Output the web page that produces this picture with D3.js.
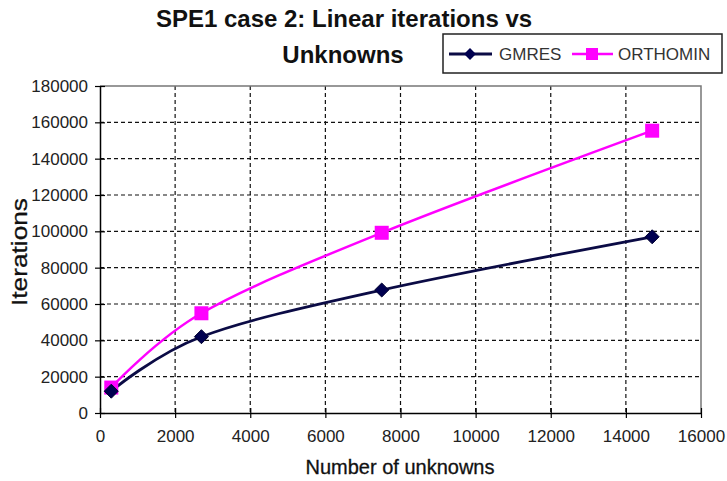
<!doctype HTML>
<meta charset="utf-8">
<style>
    body { margin: 0; background: #fff; }
    text { font-family: "Liberation Sans", Arial, sans-serif; }
    .grid line { stroke: #111; stroke-dasharray: 4,3; stroke-width: 1.2; }
    .axis path { stroke: #000; stroke-width: 1.5; }
    .axis line { stroke: #000; stroke-width: 1.2; }
    .axis text { font-size: 17px; fill: #222; }
</style>
<html>
<head>
    <script src="https://d3js.org/d3.v7.min.js"></script>
</head>
<body>
<div id="chart"></div>
<script>

    // data
    var unknowns = [300, 2700, 7500, 14700];
    var gmres = [12000, 42000, 67700, 97000];
    var orthomin = [14000, 54900, 99200, 155400];
    var seriesNames = ["GMRES", "ORTHOMIN"];
    var xTicks = [0, 2000, 4000, 6000, 8000, 10000, 12000, 14000, 16000];
    var yTicks = [0, 20000, 40000, 60000, 80000, 100000, 120000, 140000, 160000, 180000];

    var margin = {top: 86, right: 26, bottom: 68, left: 100},
        width = 727 - margin.left - margin.right,
        height = 481 - margin.top - margin.bottom;

    var root = d3.select("#chart")
        .append("svg")
        .attr("width", 727)
        .attr("height", 481);

    var svg = root.append("g")
        .attr("transform", "translate(" + margin.left + "," + margin.top + ")");

    var x = d3.scaleLinear().domain([0, 16000]).range([0, width]);
    var y = d3.scaleLinear().domain([0, 180000]).range([height, 0]);

    // dashed grid
    svg.append("g").attr("class", "grid")
        .selectAll("line.h").data(yTicks.slice(1, -1)).enter().append("line")
        .attr("x1", 0).attr("x2", width)
        .attr("y1", function(d) { return y(d); })
        .attr("y2", function(d) { return y(d); });
    svg.append("g").attr("class", "grid")
        .selectAll("line.v").data(xTicks.slice(1, -1)).enter().append("line")
        .attr("y1", 0).attr("y2", height)
        .attr("x1", function(d) { return x(d); })
        .attr("x2", function(d) { return x(d); });

    // grey frame top and right
    svg.append("path")
        .attr("d", "M0,0H" + width + "V" + height)
        .attr("fill", "none")
        .attr("stroke", "#777")
        .attr("stroke-width", 1.5);

    // axes with crossing ticks
    var yAxis = svg.append("g").attr("class", "axis")
        .call(d3.axisLeft(y).tickValues(yTicks).tickFormat(d3.format("d"))
            .tickSizeInner(5).tickSizeOuter(0).tickPadding(7));
    yAxis.selectAll(".tick line").attr("x1", 5);

    var xAxis = svg.append("g").attr("class", "axis")
        .attr("transform", "translate(0," + height + ")")
        .call(d3.axisBottom(x).tickValues(xTicks).tickFormat(d3.format("d"))
            .tickSizeInner(5).tickSizeOuter(0).tickPadding(12));
    xAxis.selectAll(".tick line").attr("y1", -5);

    // lines
    var line = d3.line()
        .x(function(d) { return x(d[0]); })
        .y(function(d) { return y(d[1]); })
        .curve(d3.curveCatmullRom.alpha(0));

    var gData = d3.zip(unknowns, gmres);
    var oData = d3.zip(unknowns, orthomin);

    svg.append("path")
        .datum(oData)
        .attr("d", line)
        .attr("fill", "none")
        .attr("stroke", "#ff00ff")
        .attr("stroke-width", 2.5);

    svg.append("path")
        .datum(gData)
        .attr("d", line)
        .attr("fill", "none")
        .attr("stroke", "#0b0b45")
        .attr("stroke-width", 2.8);

    var diamond = d3.symbol().type(d3.symbolDiamond2).size(125);

    svg.selectAll(".sq")
        .data(oData)
        .enter().append("rect")
        .attr("class", "sq")
        .attr("x", function(d) { return x(d[0]) - 7; })
        .attr("y", function(d) { return y(d[1]) - 7; })
        .attr("width", 14)
        .attr("height", 14)
        .attr("fill", "#ff00ff");

    svg.selectAll(".dm")
        .data(gData)
        .enter().append("path")
        .attr("class", "dm")
        .attr("d", diamond)
        .attr("transform", function(d) { return "translate(" + x(d[0]) + "," + y(d[1]) + ")"; })
        .attr("fill", "#000050")
        .attr("stroke", "#000030")
        .attr("stroke-width", 1);

    // titles
    root.append("text")
        .attr("x", 344).attr("y", 27)
        .attr("text-anchor", "middle")
        .attr("font-size", 24).attr("font-weight", "bold")
        .attr("fill", "#111")
        .text("SPE1 case 2: Linear iterations vs");
    root.append("text")
        .attr("x", 343).attr("y", 63)
        .attr("text-anchor", "middle")
        .attr("font-size", 24).attr("font-weight", "bold")
        .attr("fill", "#111")
        .text("Unknowns");

    root.append("text")
        .attr("x", 400).attr("y", 474)
        .attr("text-anchor", "middle")
        .attr("font-size", 20)
        .attr("fill", "#111")
        .attr("stroke", "#111").attr("stroke-width", 0.3)
        .text("Number of unknowns");

    root.append("text")
        .attr("transform", "translate(27,252) rotate(-90)")
        .attr("text-anchor", "middle")
        .attr("font-size", 22)
        .attr("fill", "#111")
        .attr("stroke", "#111").attr("stroke-width", 0.3)
        .attr("textLength", 108)
        .attr("lengthAdjust", "spacingAndGlyphs")
        .text("Iterations");

    // legend
    var legend = root.append("g").attr("transform", "translate(443,34)");
    legend.append("rect")
        .attr("width", 279).attr("height", 39)
        .attr("fill", "#fff")
        .attr("stroke", "#222").attr("stroke-width", 1.5);

    var lg = legend.append("g").attr("transform", "translate(6,20)");
    lg.append("line").attr("x1", 0).attr("x2", 43).attr("stroke", "#0b0b45").attr("stroke-width", 2.8);
    lg.append("path").attr("d", d3.symbol().type(d3.symbolDiamond2).size(90)).attr("transform", "translate(21,0)").attr("fill", "#000050");
    lg.append("text").attr("x", 50).attr("y", 6).attr("font-size", 17).attr("fill", "#333").text(seriesNames[0]);

    var lo = legend.append("g").attr("transform", "translate(129,20)");
    lo.append("line").attr("x1", 0).attr("x2", 41).attr("stroke", "#ff00ff").attr("stroke-width", 2.5);
    lo.append("rect").attr("x", 14).attr("y", -6).attr("width", 12).attr("height", 12).attr("fill", "#ff00ff");
    lo.append("text").attr("x", 46).attr("y", 6).attr("font-size", 17).attr("fill", "#333").text(seriesNames[1]);

</script>
</body>
</html>
